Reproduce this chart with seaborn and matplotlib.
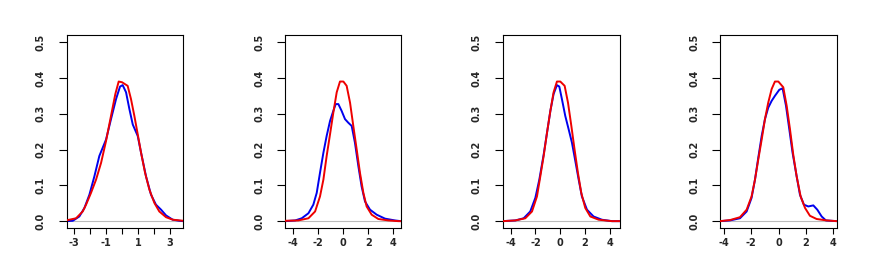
import pandas as pd
import matplotlib
matplotlib.use("Agg")
import matplotlib.pyplot as plt
import seaborn as sns

# density curves (blue = sample, red = reference)
p1_blue_x = [-3.5, -3.08, -2.67, -2.35, -2.04, -1.73, -1.42, -1.21, -1.0, -0.69, -0.375, -0.125, 0.04, 0.25, 0.46, 0.67, 0.98, 1.19, 1.5, 1.81, 2.12, 2.44, 2.75, 3.17, 3.58, 3.83]
p1_blue_y = [0.0, 0.001, 0.013, 0.037, 0.074, 0.125, 0.182, 0.205, 0.228, 0.285, 0.341, 0.376, 0.38, 0.36, 0.313, 0.27, 0.238, 0.191, 0.125, 0.074, 0.046, 0.032, 0.016, 0.004, 0.001, 0.0]
p1_red_x = [-3.5, -2.875, -2.46, -2.25, -1.94, -1.625, -1.31, -1.0, -0.69, -0.42, -0.21, 0.0, 0.35, 0.56, 0.77, 0.98, 1.19, 1.44, 1.71, 2.02, 2.33, 2.75, 3.17, 3.83]
p1_red_y = [0.002, 0.008, 0.027, 0.046, 0.079, 0.116, 0.163, 0.224, 0.294, 0.355, 0.39, 0.388, 0.378, 0.341, 0.294, 0.243, 0.191, 0.135, 0.088, 0.051, 0.027, 0.011, 0.004, 0.001]

p2_blue_x = [-4.6, -3.8, -3.28, -2.75, -2.36, -2.09, -1.83, -1.56, -1.3, -1.03, -0.77, -0.58, -0.37, -0.11, 0.16, 0.42, 0.69, 0.95, 1.22, 1.48, 1.75, 2.15, 2.68, 3.34, 4.13, 4.59]
p2_blue_y = [0.0, 0.002, 0.008, 0.022, 0.046, 0.079, 0.135, 0.191, 0.238, 0.28, 0.308, 0.327, 0.327, 0.308, 0.285, 0.275, 0.266, 0.219, 0.154, 0.097, 0.055, 0.032, 0.018, 0.007, 0.002, 0.0]
p2_red_x = [-4.6, -3.55, -2.75, -2.22, -1.83, -1.56, -1.3, -1.03, -0.77, -0.5, -0.24, 0.03, 0.29, 0.56, 0.82, 1.09, 1.35, 1.62, 1.88, 2.28, 2.81, 3.6, 4.4, 4.59]
p2_red_y = [0.001, 0.002, 0.008, 0.027, 0.069, 0.116, 0.182, 0.243, 0.303, 0.36, 0.39, 0.39, 0.378, 0.331, 0.266, 0.2, 0.135, 0.079, 0.041, 0.018, 0.006, 0.002, 0.0, 0.0]

p3_blue_x = [-4.64, -3.62, -2.95, -2.42, -2.01, -1.69, -1.34, -1.07, -0.8, -0.54, -0.27, -0.08, 0.13, 0.4, 0.67, 0.94, 1.21, 1.48, 1.74, 2.15, 2.68, 3.35, 4.16, 4.81]
p3_blue_y = [0.0, 0.002, 0.008, 0.027, 0.065, 0.116, 0.186, 0.247, 0.308, 0.355, 0.38, 0.376, 0.341, 0.294, 0.257, 0.219, 0.168, 0.116, 0.069, 0.032, 0.013, 0.004, 0.0, 0.0]
p3_red_x = [-4.64, -3.62, -2.82, -2.28, -1.88, -1.61, -1.34, -1.07, -0.8, -0.54, -0.27, 0.0, 0.35, 0.62, 0.89, 1.15, 1.42, 1.69, 2.01, 2.42, 3.09, 4.16, 4.81]
p3_red_y = [0.0, 0.002, 0.008, 0.027, 0.069, 0.125, 0.182, 0.247, 0.308, 0.36, 0.39, 0.39, 0.378, 0.331, 0.266, 0.2, 0.135, 0.079, 0.037, 0.013, 0.004, 0.0, 0.0]

p4_blue_x = [-4.29, -3.56, -2.83, -2.34, -1.98, -1.73, -1.49, -1.24, -1.0, -0.76, -0.51, -0.27, 0.05, 0.29, 0.54, 0.78, 1.02, 1.32, 1.56, 1.85, 2.17, 2.54, 2.83, 3.15, 3.46, 4.25]
p4_blue_y = [0.0, 0.002, 0.008, 0.027, 0.065, 0.116, 0.177, 0.238, 0.285, 0.317, 0.336, 0.35, 0.367, 0.371, 0.322, 0.257, 0.191, 0.125, 0.074, 0.046, 0.041, 0.044, 0.032, 0.013, 0.002, 0.0]
p4_red_x = [-4.29, -3.56, -2.83, -2.34, -1.98, -1.73, -1.49, -1.24, -1.0, -0.76, -0.51, -0.27, -0.02, 0.34, 0.59, 0.83, 1.07, 1.32, 1.61, 1.93, 2.29, 2.78, 3.51, 4.25]
p4_red_y = [0.0, 0.003, 0.011, 0.032, 0.069, 0.116, 0.172, 0.228, 0.285, 0.331, 0.369, 0.39, 0.39, 0.374, 0.322, 0.257, 0.186, 0.125, 0.069, 0.037, 0.015, 0.006, 0.002, 0.0]

xlims = [(-3.46, 3.83), (-4.59, 4.59), (-4.64, 4.81), (-4.29, 4.25)]
xticks = [[-3, -2, -1, 0, 1, 2, 3], [-4, -2, 0, 2, 4], [-4, -2, 0, 2, 4], [-4, -2, 0, 2, 4]]
xticklabels = [["-3", "", "-1", "", "1", "", "3"], ["-4", "-2", "0", "2", "4"],
               ["-4", "-2", "0", "2", "4"], ["-4", "-2", "0", "2", "4"]]
yticks = [0.0, 0.1, 0.2, 0.3, 0.4, 0.5]

panels = [(p1_blue_x, p1_blue_y, p1_red_x, p1_red_y),
          (p2_blue_x, p2_blue_y, p2_red_x, p2_red_y),
          (p3_blue_x, p3_blue_y, p3_red_x, p3_red_y),
          (p4_blue_x, p4_blue_y, p4_red_x, p4_red_y)]

sns.set_style("white")

W, H = 871, 273
fig = plt.figure(figsize=(W / 100, H / 100), dpi=100)
lefts = [66.7, 285.3, 502.7, 720.0]
rights = [183.3, 400.7, 620.0, 836.7]
top, bottom = 35, 228.3

for i, (bx, by, rx, ry) in enumerate(panels):
    ax = fig.add_axes([lefts[i] / W, 1 - bottom / H, (rights[i] - lefts[i]) / W, (bottom - top) / H])
    ax.axhline(0, color="#bbbbbb", lw=0.8, zorder=1)
    blue = pd.DataFrame({"x": bx, "y": by})
    red = pd.DataFrame({"x": rx, "y": ry})
    sns.lineplot(data=blue, x="x", y="y", ax=ax, color="#0000ee", lw=1.4, sort=False, zorder=2)
    sns.lineplot(data=red, x="x", y="y", ax=ax, color="#ee0000", lw=1.4, sort=False, zorder=3)
    ax.set_xlim(*xlims[i])
    ax.set_ylim(-0.02, 0.52)
    ax.set_xticks(xticks[i])
    ax.set_xticklabels(xticklabels[i], fontsize=7, fontweight="bold")
    ax.set_yticks(yticks)
    ax.set_yticklabels([f"{v:.1f}" for v in yticks], fontsize=7, fontweight="bold",
                       rotation=90, va="center")
    ax.tick_params(axis="x", direction="out", length=4, width=0.8, pad=3,
                   bottom=True, color="black")
    ax.tick_params(axis="y", direction="out", length=6, width=0.8, pad=9,
                   left=True, color="black")
    ax.set_xlabel("")
    ax.set_ylabel("")
    for s in ax.spines.values():
        s.set_color("black")
        s.set_linewidth(0.8)
        s.set_visible(True)

fig.savefig("out.png", dpi=100)
